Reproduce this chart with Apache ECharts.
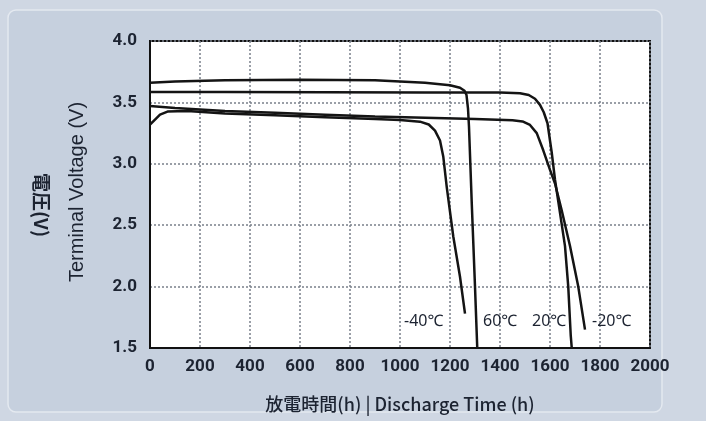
<!DOCTYPE html>
<html>
<head>
<meta charset="utf-8">
<script src="https://cdn.jsdelivr.net/npm/echarts@6/dist/echarts.min.js"></script>
<style>
html,body{margin:0;padding:0;background:#cfd7e3;}
#c{width:706px;height:421px;}
</style>
</head>
<body>
<div id="c"></div>
<script>
// Discharge time (h) vs terminal voltage (V)
const xTicks = [0, 200, 400, 600, 800, 1000, 1200, 1400, 1600, 1800, 2000];
const yTicks = [1.5, 2.0, 2.5, 3.0, 3.5, 4.0];

const curve60 = [[0,3.66],[100,3.67],[300,3.68],[600,3.685],[900,3.68],[1000,3.67],[1100,3.66],[1200,3.64],[1240,3.62],[1258,3.595],[1266,3.56],[1272,3.45],[1276,3.30],[1287,2.68],[1300,2.0],[1309,1.5]];
const curve20 = [[0,3.585],[300,3.585],[700,3.583],[1100,3.58],[1400,3.58],[1480,3.575],[1515,3.56],[1540,3.53],[1560,3.48],[1575,3.42],[1590,3.33],[1607,3.09],[1620,2.87],[1640,2.60],[1660,2.33],[1673,2.0],[1683,1.6],[1687,1.5]];
const curveM20 = [[0,3.47],[100,3.455],[300,3.43],[500,3.415],[700,3.40],[900,3.385],[1100,3.375],[1300,3.365],[1450,3.355],[1490,3.345],[1520,3.316],[1547,3.25],[1573,3.11],[1600,2.95],[1620,2.84],[1647,2.62],[1680,2.33],[1713,2.0],[1740,1.65]];
const curveM40 = [[0,3.32],[15,3.35],[40,3.40],[70,3.425],[150,3.43],[300,3.41],[500,3.395],[700,3.38],[900,3.365],[1000,3.357],[1080,3.343],[1115,3.32],[1140,3.27],[1160,3.19],[1173,3.06],[1187,2.81],[1213,2.41],[1240,2.08],[1260,1.78]];

const seriesNames = ['60℃', '20℃', '-20℃', '-40℃'];
const seriesData = [curve60, curve20, curveM20, curveM40];
const curveLabels = [
  {text:'-40℃', x:404, y:321},
  {text:'60℃', x:483, y:321},
  {text:'20℃', x:532, y:321},
  {text:'-20℃', x:592, y:321}
];

const chart = echarts.init(document.getElementById('c'), null, {renderer:'canvas'});
const tickFont = {fontFamily:'Roboto', fontSize:17, fontWeight:'bold', color:'#1c2331'};

chart.setOption({
  backgroundColor:'#cfd7e3',
  animation:false,
  grid:{left:150, right:56, top:41, bottom:73, show:true, backgroundColor:'#ffffff', borderColor:'#111', borderWidth:2},
  xAxis:{type:'value', min:xTicks[0], max:xTicks[xTicks.length-1], interval:200,
    axisLine:{show:true, lineStyle:{color:'#111', width:2}},
    axisTick:{show:false},
    axisLabel:Object.assign({margin:10, formatter:v=>String(v)}, tickFont),
    splitLine:{show:true, lineStyle:{color:'#7a808a', width:1.5, type:[2,2]}}
  },
  yAxis:{type:'value', min:yTicks[0], max:yTicks[yTicks.length-1], interval:0.5,
    axisLine:{show:true, lineStyle:{color:'#111', width:2}},
    axisTick:{show:false},
    axisLabel:Object.assign({margin:13, formatter:v=>v.toFixed(1)}, tickFont),
    splitLine:{show:true, lineStyle:{color:'#7a808a', width:1.5, type:[2,2]}}
  },
  series: seriesData.map((d,i)=>({
    name:seriesNames[i], type:'line', data:d, showSymbol:false, smooth:false,
    lineStyle:{color:'#141414', width:2.5}, z:3
  })),
  graphic:[
    {type:'rect', z:-10, shape:{x:8, y:10, width:654, height:402, r:8}, style:{fill:'#c6d0de', stroke:'#e4e9f0', lineWidth:1.5}, silent:true},
    {type:'text', x:77, y:192, rotation:Math.PI/2, style:{text:'Terminal Voltage (V)', fontFamily:'Liberation Sans', fontSize:20, fill:'#1c2331', align:'center', verticalAlign:'middle'}},
    {type:'text', x:41, y:205, rotation:-Math.PI/2, style:{text:'電圧(V)', fontFamily:'Noto Sans CJK JP', fontSize:19, fontWeight:'bold', fill:'#1c2331', align:'center', verticalAlign:'middle'}},
    {type:'text', x:400, y:404, style:{text:'放電時間(h) | Discharge Time (h)', fontFamily:'Noto Sans CJK JP', fontSize:18, fontWeight:500, fill:'#1c2331', align:'center', verticalAlign:'middle'}}
  ].concat(curveLabels.map(l=>({type:'text', x:l.x, y:l.y, z:10, style:{text:l.text, fontFamily:'Noto Sans', fontSize:16, fill:'#1c2331', align:'left', verticalAlign:'middle'}})))
});
</script>
</body>
</html>
